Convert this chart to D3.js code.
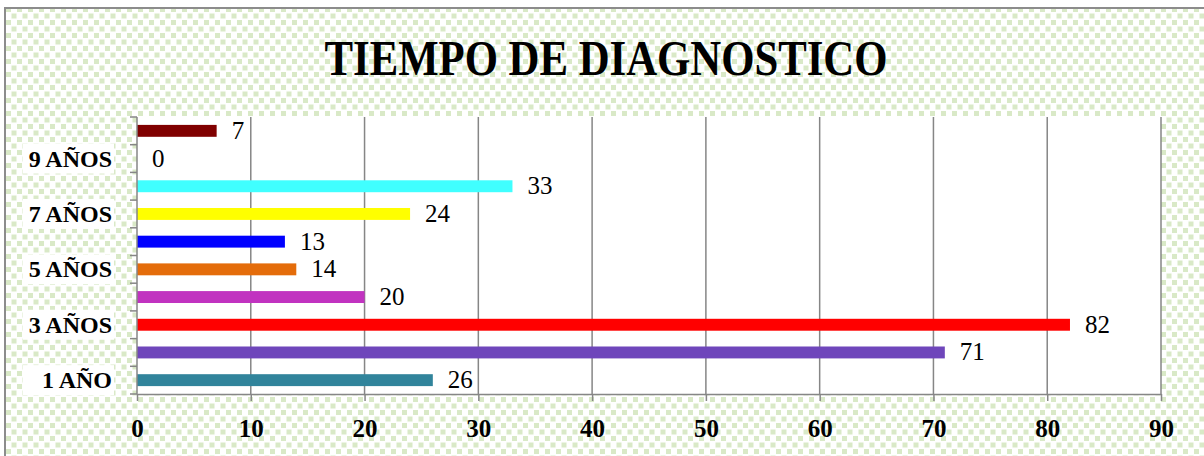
<!DOCTYPE html>
<html><head><meta charset="utf-8">
<script src="https://cdn.jsdelivr.net/npm/d3@7"></script>
<style>body{margin:0;background:#fff;}svg{display:block;}</style>
</head><body>
<script>
const categories = ["1 AÑO","2 AÑOS","3 AÑOS","4 AÑOS","5 AÑOS","6 AÑOS","7 AÑOS","8 AÑOS","9 AÑOS","10 AÑOS"];
const values = [26,71,82,20,14,13,24,33,0,7];
const colors = ["#31849b","#6f46bb","#ff0000","#c133c0","#e46c0a","#0000ff","#ffff00","#40ffff","#7f7f7f","#800000"];
const shownLabels = ["1 AÑO","3 AÑOS","5 AÑOS","7 AÑOS","9 AÑOS"];
const xTicks = [0,10,20,30,40,50,60,70,80,90];
const chartTitle = "TIEMPO DE DIAGNOSTICO";

(function(){
const W = 1204, H = 456;
const svg = d3.select("body").append("svg").attr("width", W).attr("height", H);
const defs = svg.append("defs");
const pat = defs.append("pattern").attr("id","dots").attr("patternUnits","userSpaceOnUse")
  .attr("width",11).attr("height",13);
pat.append("rect").attr("width",11).attr("height",13).attr("fill","#ffffff");
pat.append("rect").attr("x",0.5).attr("y",0.5).attr("width",5).attr("height",5).attr("fill","#d9e9c7");
pat.append("rect").attr("x",6).attr("y",7).attr("width",5).attr("height",5).attr("fill","#d9e9c7");

svg.append("rect").attr("x",5).attr("y",8).attr("width",W+10).attr("height",H+10)
  .attr("fill","url(#dots)").attr("stroke","#8c8c8c").attr("stroke-width",2);

const font = "'Liberation Serif', 'DejaVu Serif', serif";
const pL = 137, pR = 1161, pT = 117, pB = 394;
const x = d3.scaleLinear().domain([0,90]).range([pL,pR]);
const y = d3.scaleBand().domain(categories).range([pB, pT]).paddingInner(0.57).paddingOuter(0.285);
const yb = d3.scaleBand().domain(categories).range([pB, pT]);

svg.append("text").attr("x",606).attr("y",75).attr("text-anchor","middle")
  .attr("font-family",font).attr("font-weight","bold").attr("font-size",50)
  .attr("textLength",563).attr("lengthAdjust","spacingAndGlyphs").text(chartTitle);

svg.append("rect").attr("x",pL).attr("y",pT).attr("width",pR-pL).attr("height",pB-pT).attr("fill","#fff");

svg.append("g").selectAll("line").data(xTicks.slice(1)).join("line")
  .attr("x1",d=>x(d)).attr("x2",d=>x(d)).attr("y1",pT).attr("y2",pB)
  .attr("stroke","#868686").attr("stroke-width",1.5);

svg.append("g").selectAll("rect").data(values).join("rect")
  .attr("x",x(0)).attr("y",(d,i)=>y(categories[i])).attr("width",d=>x(d)-x(0))
  .attr("height",y.bandwidth()).attr("fill",(d,i)=>colors[i]);

svg.append("g").selectAll("text").data(values).join("text")
  .attr("x",d=>x(d)+15).attr("y",(d,i)=>y(categories[i])+y.bandwidth()/2+8)
  .attr("font-family",font).attr("font-size",25).attr("fill","#000").text(d=>d);

const xa = svg.append("g").attr("transform",`translate(0,${pB})`)
  .call(d3.axisBottom(x).tickValues(xTicks).tickSize(7).tickSizeOuter(0).tickPadding(18));
xa.select(".domain").attr("stroke","#868686").attr("stroke-width",1.5);
xa.selectAll(".tick line").attr("stroke","#868686").attr("stroke-width",1.5);
xa.selectAll("text").attr("font-family",font).attr("font-weight","bold").attr("font-size",25).attr("fill","#000");

const ya = svg.append("g");
ya.append("line").attr("x1",pL).attr("x2",pL).attr("y1",pT).attr("y2",pB).attr("stroke","#868686").attr("stroke-width",1.5);
ya.selectAll("line.t").data(categories.map(c=>yb(c)+yb.bandwidth()).concat([pT])).join("line").attr("class","t")
  .attr("x1",pL-7).attr("x2",pL).attr("y1",d=>d).attr("y2",d=>d).attr("stroke","#868686").attr("stroke-width",1.5);

const lab = ya.selectAll("g.lab").data(shownLabels).join("g").attr("class","lab");
lab.append("rect").attr("x",23).attr("width",91).attr("y",d=>yb(d)+yb.bandwidth()/2-15).attr("height",30).attr("fill","#fff");
lab.append("text").attr("x",112).attr("y",d=>yb(d)+yb.bandwidth()/2+8).attr("text-anchor","end")
  .attr("font-family",font).attr("font-weight","bold").attr("font-size",24).text(d=>d);
})();
</script>
</body></html>
